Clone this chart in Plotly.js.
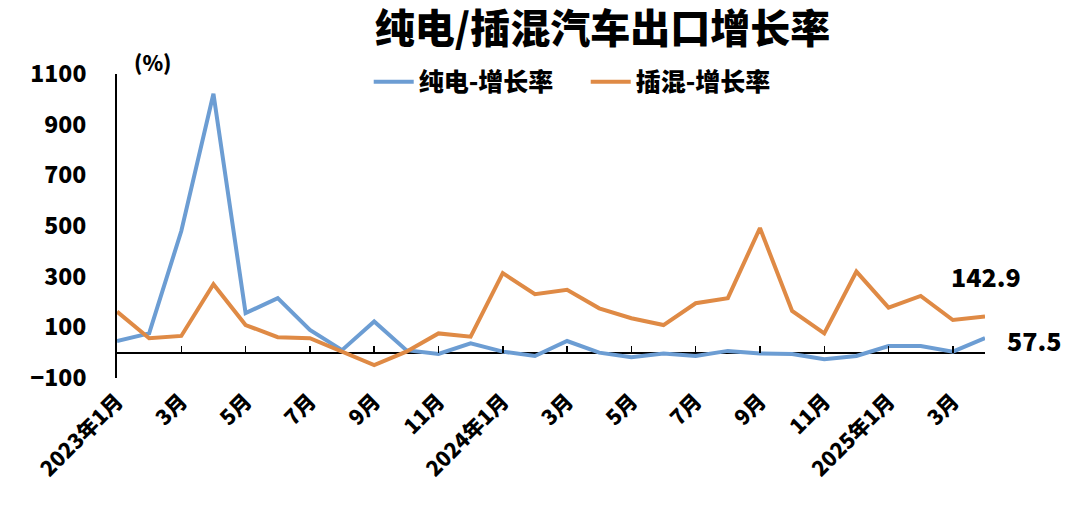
<!DOCTYPE html>
<html>
<head>
<meta charset="utf-8">
<script src="https://cdn.plot.ly/plotly-3.0.1.min.js"></script>
<style>
  html, body { margin: 0; padding: 0; background: #fff; }
  #chart { width: 1076px; height: 520px; }
</style>
</head>
<body>
<div id="chart"></div>
<script>
// ---- data ----
const months = [
  "2023年1月","2023年2月","2023年3月","2023年4月","2023年5月","2023年6月","2023年7月",
  "2023年8月","2023年9月","2023年10月","2023年11月","2023年12月",
  "2024年1月","2024年2月","2024年3月","2024年4月","2024年5月","2024年6月","2024年7月",
  "2024年8月","2024年9月","2024年10月","2024年11月","2024年12月",
  "2025年1月","2025年2月","2025年3月","2025年4月"
];
const tickMonths = ["2023年1月","2023年3月","2023年5月","2023年7月","2023年9月","2023年11月",
  "2024年1月","2024年3月","2024年5月","2024年7月","2024年9月","2024年11月",
  "2025年1月","2025年3月"];
const tickLabels = ["2023年1月","3月","5月","7月","9月","11月",
  "2024年1月","3月","5月","7月","9月","11月","2025年1月","3月"];

const bevGrowth = [46, 76, 480, 1022, 156, 215, 90, 10, 123, 10, -5, 37, 4, -13,
  46, 0, -18, -3, -13, 7, -3, -5, -26, -13, 26, 26, 4, 57.5];
const phevGrowth = [162, 57, 66, 270, 109, 61, 57, 4, -49, 4, 76, 63, 314, 231,
  248, 175, 136, 109, 195, 215, 492, 165, 76, 320, 178, 224, 129, 142.9];

const seriesNames = ["纯电-增长率", "插混-增长率"];
const titleText = "纯电/插混汽车出口增长率";
const unitText = "(%)";

// ---- chart ----
const FONT = '"Noto Sans CJK SC", "Noto Sans", sans-serif';
const blue = '#6c9dd3';
const orange = '#df8a45';

const traces = [
  { x: months, y: bevGrowth, name: seriesNames[0], type: 'scatter', mode: 'lines',
    line: { color: blue, width: 4 } },
  { x: months, y: phevGrowth, name: seriesNames[1], type: 'scatter', mode: 'lines',
    line: { color: orange, width: 4 } }
];

const last = months.length - 1;

const layout = {
  width: 1076, height: 520,
  margin: { l: 117, r: 91, t: 74, b: 142 },
  paper_bgcolor: '#fff', plot_bgcolor: '#fff',
  font: { family: FONT, color: '#000' },
  title: { text: titleText, font: { family: FONT, size: 40, color: '#000', weight: 900 },
    x: 0.56, xanchor: 'center', y: 0.944, yanchor: 'middle' },
  showlegend: true,
  legend: { orientation: 'h', x: 0.29, xanchor: 'left', y: 0.974, yanchor: 'middle',
    font: { family: FONT, size: 25, color: '#000', weight: 900 },
    itemwidth: 40, entrywidth: 162, entrywidthmode: 'pixels',
    tracegroupgap: 0, bgcolor: 'rgba(0,0,0,0)' },
  xaxis: {
    type: 'category', range: [0, last],
    tickvals: tickMonths, ticktext: tickLabels,
    tickangle: -45, ticks: '', showline: false, showgrid: false, zeroline: false,
    tickfont: { family: FONT, size: 21, color: '#000', weight: 900 },
    ticklabelstandoff: 6
  },
  xaxis2: {
    overlaying: 'x', anchor: 'free', position: 100 / 1200, side: 'bottom',
    type: 'linear', range: [0, last], tickmode: 'array',
    tickvals: [2, 4, 6, 8, 10, 12, 14, 16, 18, 20, 22, 24, 26],
    ticks: 'inside', ticklen: 7, tickwidth: 1.5, tickcolor: '#000',
    showticklabels: false, showline: false, showgrid: false, zeroline: false
  },
  yaxis: {
    range: [-100, 1100], tickvals: [-100, 100, 300, 500, 700, 900, 1100],
    showline: true, linecolor: '#000', linewidth: 2, ticks: '',
    showgrid: false, zeroline: true, zerolinecolor: '#000', zerolinewidth: 2,
    tickfont: { family: FONT, size: 23, color: '#000', weight: 900 },
    ticklabelstandoff: 24
  },
  annotations: [
    { xref: 'paper', yref: 'paper', x: 0.041, y: 1.039, xanchor: 'center', yanchor: 'middle',
      text: unitText, showarrow: false,
      font: { family: FONT, size: 21, color: '#000', weight: 900 } },
    { x: months[last], y: phevGrowth[last], xref: 'x', yref: 'y',
      text: phevGrowth[last].toFixed(1), showarrow: false,
      xanchor: 'center', yanchor: 'middle', xshift: 1, yshift: 40,
      font: { family: FONT, size: 25, color: '#000', weight: 900 } },
    { x: months[last], y: bevGrowth[last], xref: 'x', yref: 'y',
      text: bevGrowth[last].toFixed(1), showarrow: false,
      xanchor: 'left', yanchor: 'middle', xshift: 20, yshift: -2,
      font: { family: FONT, size: 25, color: '#000', weight: 900 } }
  ]
};

// invisible trace to activate xaxis2 (tick marks on the zero line)
traces.push({ x: [0, last], y: [null, null], xaxis: 'x2', yaxis: 'y', showlegend: false,
  hoverinfo: 'skip', mode: 'lines' });

Plotly.newPlot('chart', traces, layout, { displayModeBar: false, staticPlot: true });
</script>
</body>
</html>
